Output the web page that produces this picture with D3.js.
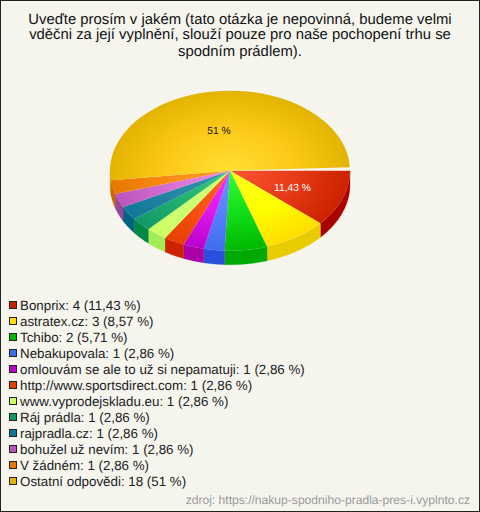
<!DOCTYPE html>
<html><head><meta charset="utf-8">
<script src="https://cdn.jsdelivr.net/npm/d3@7/dist/d3.min.js"></script>
<style>html,body{margin:0;padding:0;background:#f5f5ee}svg{display:block}text{font-family:"Liberation Sans",Arial,sans-serif;text-rendering:geometricPrecision}</style>
</head><body><script>
const titleLines = ["Uveďte prosím v jakém (tato otázka je nepovinná, budeme velmi","vděčni za její vyplnění, slouží pouze pro naše pochopení trhu se","spodním prádlem)."];
const categories = ["Bonprix","astratex.cz","Tchibo","Nebakupovala","omlouvám se ale to už si nepamatuji","http://www.sportsdirect.com","www.vyprodejskladu.eu","Ráj prádla","rajpradla.cz","bohužel už nevím","V žádném","Ostatní odpovědi"];
const counts = [4,3,2,1,1,1,1,1,1,1,1,18];
const percentLabels = ["11,43","8,57","5,71","2,86","2,86","2,86","2,86","2,86","2,86","2,86","2,86","51"];
// slice sizes as they measure on the picture (in % of the full circle)
const drawnShares = [11.43,8.57,5.71,2.8,2.8,2.8,2.8,2.8,2.8,2.8,2.8,51.2];
const baseColors = ["#cc2200","#ffdd00","#00b800","#3d6df0","#bb00cc","#e64000","#ccff66","#119966","#117799","#bb55bb","#e67700","#e2b400"];
const lightColors = ["#ff5533","#ffff22","#33ff33","#6699ff","#ee33ff","#ff6622","#ccff77","#33cc77","#3399aa","#ee88ee","#ff9922","#ffe033"];
const midColors = ["#e63a18","#ffff00","#11dd18","#5580fa","#dd18ee","#f85010","#ccff70","#22b070","#2488a2","#d470d4","#f88a14","#fcc818"];
const sideColors = ["#aa0000","#e6cc00","#00aa00","#2b4fdd","#aa00aa","#cc2200","#a0ee55","#008844","#006680","#994499","#cc6600","#cc9900"];

const W=480,H=512,cx=230,cy=170.7,rx=120,ry=80,depth=14;
const svg=d3.select("body").append("svg").attr("width",W).attr("height",H);
svg.append("rect").attr("x",.5).attr("y",.5).attr("width",W-1).attr("height",H-1).attr("fill","#f5f5ee").attr("stroke","#222");

svg.selectAll("text.t").data(titleLines).join("text").attr("class","t")
 .attr("x",240).attr("y",(d,i)=>[24,39,56][i]).attr("text-anchor","middle").attr("font-size",14.85).attr("fill","#111").text(d=>d);

const total=d3.sum(drawnShares);
const arcs=d3.pie().sort(null).startAngle(Math.PI/2).endAngle(Math.PI/2+total*3.6*Math.PI/180)(drawnShares);

const defs=svg.append("defs");
baseColors.forEach((c,i)=>{
 const g=defs.append("radialGradient").attr("id","g"+i).attr("gradientUnits","userSpaceOnUse").attr("cx",0).attr("cy",0).attr("r",rx);
 g.append("stop").attr("offset",0).attr("stop-color",lightColors[i]);
 g.append("stop").attr("offset",.55).attr("stop-color",midColors[i]);
 g.append("stop").attr("offset",1).attr("stop-color",c);
});
// d3 angles are clockwise from 12 o'clock; th is clockwise from 3 o'clock
const px=th=>cx+rx*Math.cos(th), py=(th,z)=>cy+ry*Math.sin(th)+z;
const sides=svg.append("g");
arcs.forEach((a,i)=>{
 const a0=a.startAngle-Math.PI/2, a1=Math.min(a.endAngle-Math.PI/2,Math.PI);
 if(a0>=Math.PI) return;
 const th=d3.range(41).map(k=>a0+(a1-a0)*k/40);
 const pts=th.map(t=>[px(t),py(t,0)]).concat(th.slice().reverse().map(t=>[px(t),py(t,depth)]));
 sides.append("path").attr("d",d3.line()(pts)+"Z").attr("fill",sideColors[i]).attr("stroke",sideColors[i]).attr("stroke-width",.3);
});
const face=svg.append("g").attr("transform",`translate(${cx},${cy}) scale(1,${ry/rx})`);
const arc=d3.arc().innerRadius(0).outerRadius(rx);
face.selectAll("path").data(arcs).join("path").attr("d",arc).attr("fill",(d,i)=>`url(#g${i})`);

svg.append("text").attr("x",219).attr("y",134).attr("text-anchor","middle").attr("font-size",10.3).attr("fill","#111").text(percentLabels[11]+" %");
svg.append("text").attr("x",292.5).attr("y",191).attr("text-anchor","middle").attr("font-size",10.3).attr("fill","#fff").text(percentLabels[0]+" %");

const leg=svg.selectAll("g.l").data(categories).join("g").attr("class","l").attr("transform",(d,i)=>`translate(0,${305+i*16})`);
leg.append("rect").attr("x",9.5).attr("y",-3.5).attr("width",7).attr("height",7).attr("fill",(d,i)=>baseColors[i]).attr("stroke","#222");
leg.append("text").attr("x",20).attr("y",4.5).attr("font-size",13.35).attr("fill","#222").text((d,i)=>`${d}: ${counts[i]} (${percentLabels[i]} %)`);

svg.append("text").attr("x",470).attr("y",504).attr("text-anchor","end").attr("font-size",12.1).attr("fill","#999").text("zdroj: https://nakup-spodniho-pradla-pres-i.vyplnto.cz");
</script></body></html>
